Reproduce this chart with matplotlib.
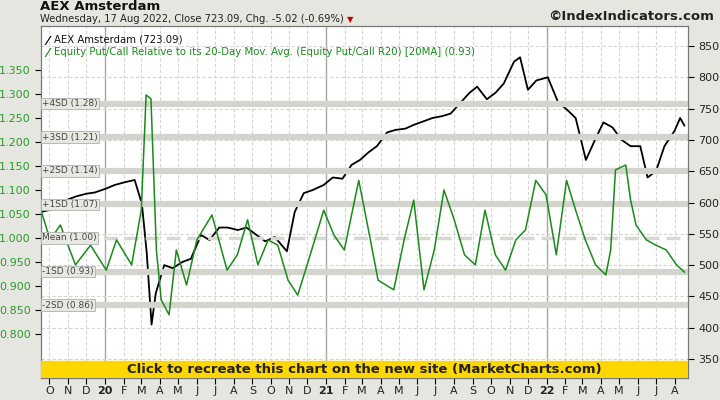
import matplotlib
matplotlib.use("Agg")
import matplotlib.pyplot as plt
import pandas as pd

aex_dates = ["2019-09-17","2019-10-01","2019-10-15","2019-11-01","2019-11-15","2019-12-01","2019-12-15",
             "2020-01-02","2020-01-17","2020-02-01","2020-02-19","2020-03-02","2020-03-10","2020-03-18",
             "2020-03-25","2020-04-08","2020-04-22","2020-05-08","2020-05-22","2020-06-08","2020-06-22",
             "2020-07-08","2020-07-22","2020-08-08","2020-08-22","2020-09-08","2020-09-22","2020-10-08",
             "2020-10-28","2020-11-10","2020-11-25","2020-12-10","2020-12-28","2021-01-12","2021-01-28",
             "2021-02-12","2021-02-26","2021-03-12","2021-03-26","2021-04-12","2021-04-26","2021-05-12",
             "2021-05-26","2021-06-12","2021-06-26","2021-07-12","2021-07-26","2021-08-12","2021-08-26",
             "2021-09-08","2021-09-24","2021-10-08","2021-10-22","2021-11-08","2021-11-18","2021-12-01",
             "2021-12-15","2022-01-03","2022-01-20","2022-02-04","2022-02-18","2022-03-07","2022-03-22",
             "2022-04-05","2022-04-20","2022-05-05","2022-05-20","2022-06-05","2022-06-17","2022-07-01",
             "2022-07-15","2022-08-01","2022-08-10","2022-08-17"]
aex_vals = [585,588,592,605,610,614,616,
            622,628,632,636,598,520,405,
            455,500,495,505,510,548,540,
            560,560,556,560,548,538,545,
            522,585,615,620,628,640,638,
            660,668,680,690,712,716,718,
            724,730,735,738,742,760,775,
            785,765,775,790,825,832,780,
            795,800,760,748,735,668,700,
            728,720,700,690,690,640,650,
            690,715,735,723]

pc_dates = ["2019-09-17","2019-10-02","2019-10-19","2019-11-13","2019-12-08","2020-01-03","2020-01-20",
            "2020-02-14","2020-03-01","2020-03-09","2020-03-17","2020-03-26","2020-04-03","2020-04-16",
            "2020-04-28","2020-05-15","2020-06-01","2020-06-26","2020-07-21","2020-08-07","2020-08-24",
            "2020-09-10","2020-09-27","2020-10-13","2020-10-30","2020-11-15","2020-12-03","2020-12-28",
            "2021-01-14","2021-01-31","2021-02-24","2021-03-12","2021-03-28","2021-04-23","2021-05-10",
            "2021-05-26","2021-06-12","2021-06-29","2021-07-15","2021-08-01","2021-08-18","2021-09-05",
            "2021-09-21","2021-10-08","2021-10-25","2021-11-11","2021-11-27","2021-12-14","2021-12-31",
            "2022-01-17","2022-02-03","2022-02-18","2022-03-06","2022-03-23","2022-04-09","2022-04-17",
            "2022-04-25","2022-05-12","2022-05-20","2022-05-29","2022-06-15","2022-07-01","2022-07-18",
            "2022-08-04","2022-08-17"]
pc_vals = [1.058,0.996,1.027,0.944,0.985,0.933,0.996,
           0.944,1.058,1.298,1.290,0.975,0.871,0.840,
           0.975,0.902,0.996,1.048,0.933,0.965,1.038,
           0.944,0.996,0.985,0.912,0.881,0.954,1.058,
           1.006,0.975,1.120,1.017,0.912,0.892,0.996,
           1.079,0.892,0.975,1.100,1.038,0.965,0.944,
           1.058,0.965,0.933,0.996,1.017,1.120,1.090,
           0.965,1.120,1.058,0.996,0.944,0.923,0.975,
           1.142,1.152,1.079,1.027,0.996,0.985,0.975,
           0.944,0.929]

sd_levels = [1.28,1.21,1.14,1.07,1.00,0.93,0.86]
sd_labels = ["+4SD (1.28)","+3SD (1.21)","+2SD (1.14)","+1SD (1.07)","Mean (1.00)","-1SD (0.93)","-2SD (0.86)"]
left_ticks = [0.80,0.85,0.90,0.95,1.00,1.05,1.10,1.15,1.20,1.25,1.30,1.35]
right_ticks = [350,400,450,500,550,600,650,700,750,800,850]

fig = plt.figure(figsize=(7.2,4.0), dpi=100)
fig.patch.set_facecolor("#e6e6e0")
ax = fig.add_axes([41/720, 22/400, 647/720, 352/400])
ax2 = ax.twinx()
ax.set_zorder(2); ax.patch.set_visible(False)
ax2.set_zorder(1)
ax2.patch.set_facecolor("white"); ax2.patch.set_visible(True)

xmin = pd.Timestamp("2019-09-17"); xmax = pd.Timestamp("2022-08-23")
ax.set_xlim(xmin, xmax)
ax.set_ylim(0.7083, 1.4417)
ax2.set_ylim(319.6, 882)

for m in pd.date_range("2019-10-01","2022-08-01",freq="MS"):
    if m.month == 1:
        ax2.axvline(m, color="#a8a8a8", lw=1.0, zorder=0)
    else:
        ax2.axvline(m, color="#d4d4d4", lw=0.8, ls=(0,(3,2)), zorder=0)
for t in right_ticks:
    ax2.axhline(t, color="#d4d4d4", lw=0.8, ls=(0,(3,2)), zorder=0)

for lv, lb in zip(sd_levels, sd_labels):
    if lb.startswith("Mean"):
        ax.axhline(lv, color="#d8d8d2", lw=2.5, ls=(0,(4,2)), zorder=1)
    else:
        ax.axhline(lv, color="#d4d4ce", lw=4.5, zorder=1)
    ax.text(xmin + pd.Timedelta(days=2), lv, lb, fontsize=6.5, color="#444444", va="center", ha="left",
            bbox=dict(boxstyle="square,pad=0.15", fc="#e8e8e2", ec="#b0b0b0", lw=0.6), zorder=3)

ax2.plot(pd.to_datetime(aex_dates), aex_vals, color="black", lw=1.3, zorder=2)
ax.plot(pd.to_datetime(pc_dates), pc_vals, color="#1a8a1a", lw=1.1, zorder=2)

ax.axhspan(0.7083, 0.7083 + 17/480, color="#ffd700", zorder=4)
ax.text(0.5, 9/352, "Click to recreate this chart on the new site (MarketCharts.com)", transform=ax.transAxes,
        ha="center", va="center", fontsize=9.5, fontweight="bold", color="#222222", zorder=5)

ax.set_yticks(left_ticks)
ax.set_yticklabels([f"{v:.3f}" for v in left_ticks], color="#2a9a2a", fontsize=8)
ax2.set_yticks(right_ticks)
ax2.set_yticklabels([str(v) for v in right_ticks], fontsize=8, color="#222222")
months = pd.date_range("2019-10-01","2022-08-01",freq="MS")
ax.set_xticks(months)
lbls = [str(m.year)[2:] if m.month == 1 else m.strftime("%b")[0] for m in months]
ax.set_xticklabels(lbls, fontsize=8, color="#222222")
for tl, m in zip(ax.get_xticklabels(), months):
    if m.month == 1:
        tl.set_fontweight("bold")
ax.tick_params(axis="x", length=4, pad=2)
ax.tick_params(axis="y", length=4)
ax2.tick_params(axis="y", length=4)
for s in list(ax.spines.values()) + list(ax2.spines.values()):
    s.set_color("#777777")

ax.text(0.008, 0.975, "⁄", transform=ax.transAxes, fontsize=9, fontweight="bold", color="black", va="top", zorder=6)
ax.text(0.02, 0.975, "AEX Amsterdam (723.09)", transform=ax.transAxes, fontsize=7.3, color="#111111", va="top", zorder=6)
ax.text(0.008, 0.94, "⁄", transform=ax.transAxes, fontsize=9, fontweight="bold", color="#1a8a1a", va="top", zorder=6)
ax.text(0.02, 0.94, "Equity Put/Call Relative to its 20-Day Mov. Avg. (Equity Put/Call R20) [20MA] (0.93)",
        transform=ax.transAxes, fontsize=7.3, color="#1a8a1a", va="top", zorder=6)

fig.text(40/720, 1-7/400, "AEX Amsterdam", fontsize=9.5, fontweight="bold", va="center", color="#111111")
fig.text(40/720, 1-19/400, "Wednesday, 17 Aug 2022, Close 723.09, Chg. -5.02 (-0.69%)", fontsize=7.2, va="center", color="#222222")
fig.text(347/720, 1-20/400, "▼", fontsize=6, va="center", color="#cc0000")
fig.text(714/720, 1-17/400, "©IndexIndicators.com", fontsize=9.5, fontweight="bold", va="center", ha="right", color="#222222")

fig.savefig("out.png", dpi=100, facecolor=fig.get_facecolor())
